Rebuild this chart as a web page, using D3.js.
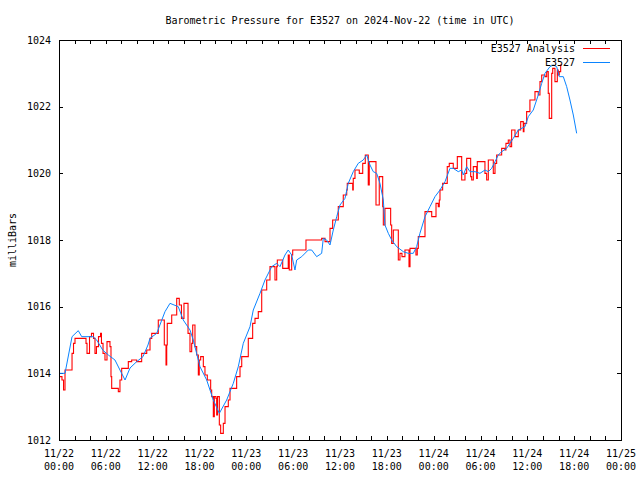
<!DOCTYPE html>
<html>
<head>
<meta charset="utf-8">
<script src="https://cdn.jsdelivr.net/npm/d3@7/dist/d3.min.js"></script>
<style>
  html, body { margin: 0; padding: 0; background: #fff; }
  svg { display: block; }
  text { font-family: "DejaVu Sans Mono", "Liberation Mono", monospace; font-size: 10px; fill: #000; }
</style>
</head>
<body>
<svg id="chart" width="640" height="480"></svg>
<script>
// ---- DATA (hours since 2024-11-22 00:00 UTC, pressure in mb) ----
const analysisHours = [0,0.38,0.58,0.77,1.67,1.86,2.05,3.46,3.59,3.91,4.16,4.42,4.61,4.80,5.06,5.32,5.44,5.64,5.89,6.15,6.53,6.66,6.75,7.60,7.81,8.03,8.88,9.31,9.95,10.59,11.24,11.66,11.88,12.72,13.49,13.71,13.80,13.87,14.44,15.08,15.41,15.69,16.01,16.53,16.78,17.00,17.13,17.42,17.64,17.85,17.97,18.15,18.49,18.70,19.00,19.43,19.56,19.77,19.90,20.11,20.20,20.31,20.54,20.71,21.05,21.27,21.69,21.91,22.76,23.19,23.41,24.25,24.81,25.11,25.53,25.97,26.61,27.03,27.67,27.89,27.97,28.66,29.37,29.50,29.81,29.94,31.64,33.65,34.08,34.72,35.06,35.78,36.42,36.86,36.93,37.63,37.70,37.92,38.47,38.91,39.24,39.62,39.75,40.61,41.03,41.47,41.55,41.76,42.49,42.62,42.83,43.47,43.68,43.94,44.32,44.84,44.97,45.73,45.90,46.03,46.89,47.75,48.30,48.59,48.72,48.81,49.15,49.74,50.00,50.51,51.03,51.59,52.01,52.23,52.74,52.87,53.08,53.51,53.59,54.57,54.79,55.00,55.64,55.86,56.07,56.71,57.14,57.26,57.56,57.78,57.99,58.42,58.84,59.15,59.48,59.57,59.91,60.33,60.98,61.40,61.62,61.84,62.26,62.48,62.68,62.81,63.12,63.25,63.54,63.84,63.96,64.09,64.27,64.44];
const analysisValues = [1013.9,1013.8,1013.5,1014.1,1014.6,1014.9,1015.05,1014.9,1014.6,1015.1,1015.2,1015.05,1014.6,1014.8,1015.1,1015.2,1014.9,1014.6,1014.4,1014.95,1014.8,1013.9,1013.55,1013.45,1013.8,1014.15,1014.35,1014.4,1014.35,1014.6,1014.7,1015.05,1015.2,1015.6,1014.85,1014.25,1014.85,1015.5,1015.75,1016.25,1016.05,1015.65,1016.1,1015.2,1014.65,1014.9,1015.45,1014.8,1014.55,1013.95,1014.4,1014.5,1014.2,1013.95,1013.8,1013.5,1013.3,1012.7,1013.3,1013.25,1012.75,1013.3,1012.45,1012.2,1012.5,1013.0,1013.2,1013.55,1013.9,1014.2,1014.5,1015.05,1015.5,1015.65,1015.85,1016.5,1016.8,1017.2,1016.8,1017.2,1017.4,1017.15,1017.55,1017.1,1017.55,1017.7,1018.0,1018.05,1017.95,1018.35,1018.6,1019.0,1019.35,1019.5,1019.7,1019.5,1019.85,1020.1,1020.0,1020.3,1020.55,1019.65,1020.35,1019.05,1019.9,1019.0,1018.45,1018.95,1018.45,1017.9,1018.3,1017.4,1017.6,1017.5,1017.7,1017.2,1017.75,1017.55,1017.75,1018.1,1018.85,1018.7,1019.1,1019.0,1019.2,1019.5,1019.7,1020.2,1020.3,1020.15,1020.5,1019.8,1020.0,1020.45,1019.9,1019.8,1020.2,1019.85,1020.35,1020.0,1019.8,1020.4,1020.0,1020.3,1020.55,1020.75,1020.7,1020.9,1021.0,1020.8,1021.3,1021.1,1021.3,1021.55,1021.25,1021.5,1021.85,1022.2,1022.45,1022.35,1022.75,1022.95,1022.9,1023.05,1022.4,1021.65,1023.0,1023.15,1022.75,1023.1,1022.95,1023.05,1023.25,1023.25];

const stationHours = [0,0.77,1.67,2.47,2.91,4.36,4.83,5.60,6.32,7.17,7.81,8.46,9.10,9.95,10.76,11.40,11.66,12.52,13.58,14.22,15.28,15.92,16.78,17.20,18.06,18.92,19.77,20.54,21.48,22.33,22.97,23.61,24.47,24.89,25.75,26.39,27.25,27.89,28.31,28.95,29.37,29.81,30.23,30.45,31.09,31.94,32.37,33.01,33.65,33.86,34.29,34.72,35.14,35.58,36.00,36.64,37.06,37.70,38.34,38.98,39.42,39.84,40.26,40.70,41.12,41.55,41.76,42.19,42.62,43.26,44.11,44.75,45.39,45.82,46.24,46.89,47.53,48.17,48.81,49.45,50.09,50.51,51.15,51.59,51.79,52.23,52.65,53.29,53.93,54.57,55.00,55.43,55.86,56.28,56.71,57.35,58.20,58.84,59.70,60.12,60.76,61.40,61.84,62.26,62.90,63.32,63.76,64.09,64.61,65.04,65.46,65.89,66.32];
const stationValues = [1014.0,1014.0,1015.1,1015.28,1015.1,1015.1,1015.0,1014.7,1014.55,1014.4,1014.1,1013.8,1014.16,1014.35,1014.5,1014.85,1015.05,1015.2,1015.85,1016.1,1016.0,1015.6,1015.3,1015.0,1014.2,1013.8,1013.2,1012.8,1013.2,1013.7,1014.2,1014.9,1015.4,1015.9,1016.4,1016.8,1017.2,1017.3,1017.2,1017.55,1017.7,1017.55,1017.1,1017.4,1017.5,1017.7,1017.7,1017.5,1017.6,1018.05,1018.0,1017.85,1018.3,1018.7,1019.05,1019.25,1019.7,1020.05,1020.3,1020.4,1020.55,1020.25,1020.05,1020.0,1019.7,1019.2,1018.45,1018.2,1018.0,1017.8,1017.65,1017.6,1017.6,1017.8,1018.2,1018.7,1019.0,1019.3,1019.5,1019.75,1020.15,1020.15,1020.05,1020.1,1019.95,1020.2,1020.05,1020.05,1020.0,1020.1,1020.05,1020.15,1020.35,1020.55,1020.65,1020.75,1021.05,1021.3,1021.4,1021.7,1021.9,1022.35,1022.7,1023.0,1023.2,1023.25,1023.2,1022.9,1022.9,1022.6,1022.2,1021.75,1021.2];

const yTicks = [1012,1014,1016,1018,1020,1022,1024];
const seriesNames = ["E3527 Analysis", "E3527"];
const seriesColors = ["#ff0000", "#0a84ff"];
const titleText = "Barometric Pressure for E3527 on 2024-Nov-22 (time in UTC)";
const yLabel = "milliBars";

// ---- LAYOUT ----
const start = new Date(Date.UTC(2024, 10, 22, 0, 0));
const end = new Date(Date.UTC(2024, 10, 25, 0, 0));
const toDate = h => new Date(start.getTime() + h * 3600e3);
const L = 59, R = 621, T = 40, B = 440;

const svg = d3.select("#chart");
const x = d3.scaleUtc().domain([start, end]).range([L, R]);
const y = d3.scaleLinear().domain([1012, 1024]).range([B, T]);

const minorTicks = d3.utcHour.every(2).range(start, new Date(end.getTime() + 1));
const labelTicks = d3.utcHour.every(6).range(start, new Date(end.getTime() + 1));

// tick marks (inward, mirrored)
const tk = 4;
const g = svg.append("g").attr("shape-rendering", "crispEdges").attr("stroke", "#000").attr("stroke-width", 1);
minorTicks.forEach(d => {
  const px = Math.round(x(d)) + 0.5;
  g.append("line").attr("x1", px).attr("x2", px).attr("y1", B).attr("y2", B - tk);
  g.append("line").attr("x1", px).attr("x2", px).attr("y1", T).attr("y2", T + tk);
});
yTicks.forEach(v => {
  const py = Math.round(y(v)) + 0.5;
  g.append("line").attr("x1", L).attr("x2", L + tk).attr("y1", py).attr("y2", py);
  g.append("line").attr("x1", R).attr("x2", R - tk).attr("y1", py).attr("y2", py);
});

// Y tick labels
svg.append("g").selectAll("text").data(yTicks).join("text")
  .attr("x", L - 8).attr("y", d => y(d)).attr("dy", "0.35em")
  .attr("text-anchor", "end").text(d => d);

// X tick labels (two lines)
const fmtD = d3.utcFormat("%m/%d"), fmtT = d3.utcFormat("%H:%M");
const xl = svg.append("g").selectAll("g").data(labelTicks).join("g")
  .attr("transform", d => `translate(${x(d)},0)`);
xl.append("text").attr("y", 457).attr("text-anchor", "middle").text(d => fmtD(d));
xl.append("text").attr("y", 470).attr("text-anchor", "middle").text(d => fmtT(d));

// lines
const analysis = analysisHours.map((h, i) => ({ t: toDate(h), v: analysisValues[i] }));
const station = stationHours.map((h, i) => ({ t: toDate(h), v: stationValues[i] }));

svg.append("path").datum(analysis)
  .attr("fill", "none").attr("stroke", seriesColors[0]).attr("stroke-width", 1.1)
  .attr("d", d3.line().x(d => x(d.t)).y(d => y(d.v)).curve(d3.curveStepAfter));
svg.append("path").datum(station)
  .attr("fill", "none").attr("stroke", seriesColors[1]).attr("stroke-width", 1)
  .attr("d", d3.line().x(d => x(d.t)).y(d => y(d.v)));

// frame
svg.append("rect").attr("x", L + 0.5).attr("y", T + 0.5).attr("width", R - L).attr("height", B - T)
  .attr("fill", "none").attr("stroke", "#000").attr("stroke-width", 1).attr("shape-rendering", "crispEdges");

// legend
seriesNames.forEach((name, i) => {
  const ly = 48 + i * 14;
  svg.append("text").attr("x", 575).attr("y", ly).attr("dy", "0.35em").attr("text-anchor", "end").text(name);
  svg.append("line").attr("x1", 583).attr("x2", 610).attr("y1", ly + 0.5).attr("y2", ly + 0.5)
    .attr("stroke", seriesColors[i]).attr("stroke-width", 1).attr("shape-rendering", "crispEdges");
});

// title
svg.append("text").attr("x", 340).attr("y", 20).attr("dy", "0.35em").attr("text-anchor", "middle").text(titleText);

// y label
svg.append("text").attr("transform", "translate(12,240) rotate(-90)").attr("dy", "0.35em")
  .attr("text-anchor", "middle").text(yLabel);
</script>
</body>
</html>
